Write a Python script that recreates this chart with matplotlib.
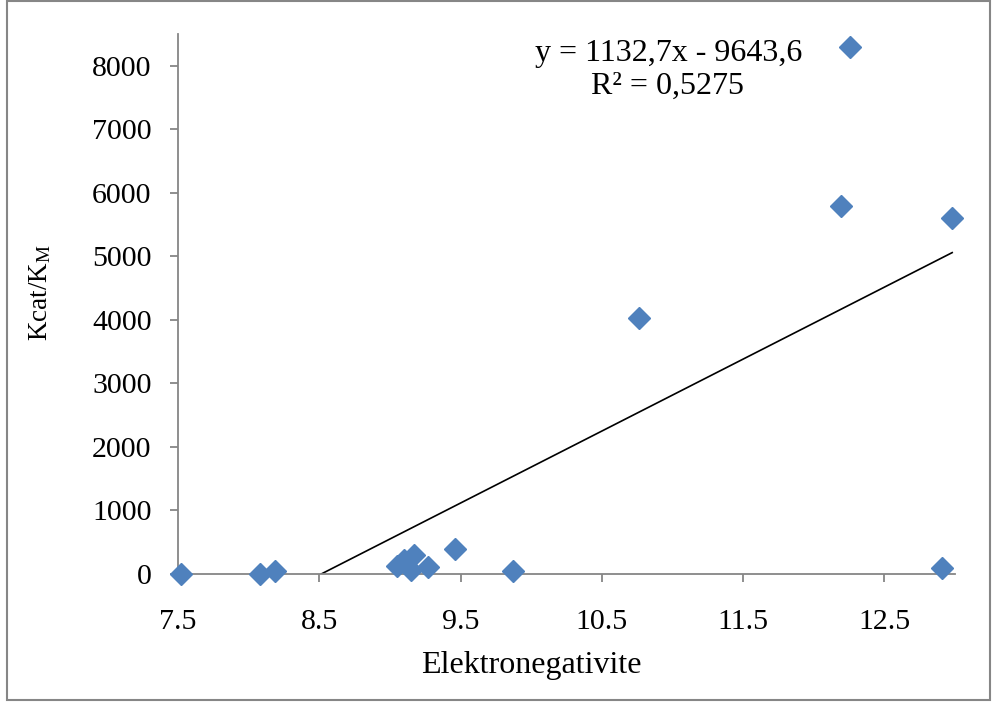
import matplotlib
matplotlib.use("Agg")
import matplotlib.pyplot as plt
import numpy as np
from matplotlib.patches import Rectangle

plt.rcParams.update({
    "font.family": "Liberation Serif",
    "mathtext.fontset": "custom",
    "mathtext.rm": "Liberation Serif",
    "font.size": 23,
})

# ── data ──────────────────────────────────────────────────────────────────────
elektroneg = [7.52, 8.08, 8.19, 9.05, 9.10, 9.17, 9.15, 9.27, 9.46, 9.87,
              10.76, 12.19, 12.98, 12.26, 12.91]
kcat_km = [0, 0, 40, 126, 221, 300, 63, 110, 394, 47,
           4022, 5790, 5600, 8300, 95]

slope, intercept = 1132.7, -9643.6
eq_text = "y = 1132,7x - 9643,6"
r2_text = "R² = 0,5275"

x_ticks = [7.5, 8.5, 9.5, 10.5, 11.5, 12.5]
y_ticks = list(range(0, 8001, 1000))

GRAY = "#868686"
BLUE = "#4F81BD"

fig = plt.figure(figsize=(9.97, 7.04), dpi=100)
ax = fig.add_axes([178 / 997, 1 - 574 / 704, (955 - 178) / 997, (574 - 34) / 704])

ax.plot(elektroneg, kcat_km, linestyle="none", marker="D", markersize=10.8,
        color=BLUE, markeredgecolor=BLUE, clip_on=False, zorder=3)

# linear trendline, cut at the x axis
x0 = -intercept / slope
xs = np.array([x0, max(elektroneg)])
ax.plot(xs, slope * xs + intercept, color="black", lw=1.2, zorder=2)

ax.set_xlim(7.5, 13.0)
ax.set_ylim(0, 8500)
ax.set_xticks(x_ticks)
ax.set_xticklabels([str(t) for t in x_ticks])
ax.set_yticks(y_ticks)

for side in ["top", "right"]:
    ax.spines[side].set_visible(False)
for side in ["left", "bottom"]:
    ax.spines[side].set_color(GRAY)
    ax.spines[side].set_linewidth(1.3)
ax.tick_params(axis="both", direction="out", length=6, width=1.3,
               color=GRAY, labelsize=21.5, labelcolor="black")
ax.tick_params(axis="x", pad=19)
ax.tick_params(axis="y", pad=13)

ax.text(0.632, 0.964, eq_text, transform=ax.transAxes, ha="center", va="center",
        fontsize=23)
ax.text(0.630, 0.903, r2_text, transform=ax.transAxes, ha="center", va="center",
        fontsize=23)

fig.text(531 / 997, 1 - 665 / 704, "Elektronegativite", ha="center",
         va="center", fontsize=23)
fig.text(40 / 997, 1 - 293 / 704, r"Kcat/K$\mathregular{_M}$", ha="center",
         va="center", rotation=90, fontsize=19.5)

# outer chart border
fig.patches.append(Rectangle((7 / 997, 1 - 700 / 704), 983 / 997, 699 / 704,
                             transform=fig.transFigure, fill=False,
                             edgecolor=GRAY, lw=1.5))

fig.savefig("out.png", dpi=100)
